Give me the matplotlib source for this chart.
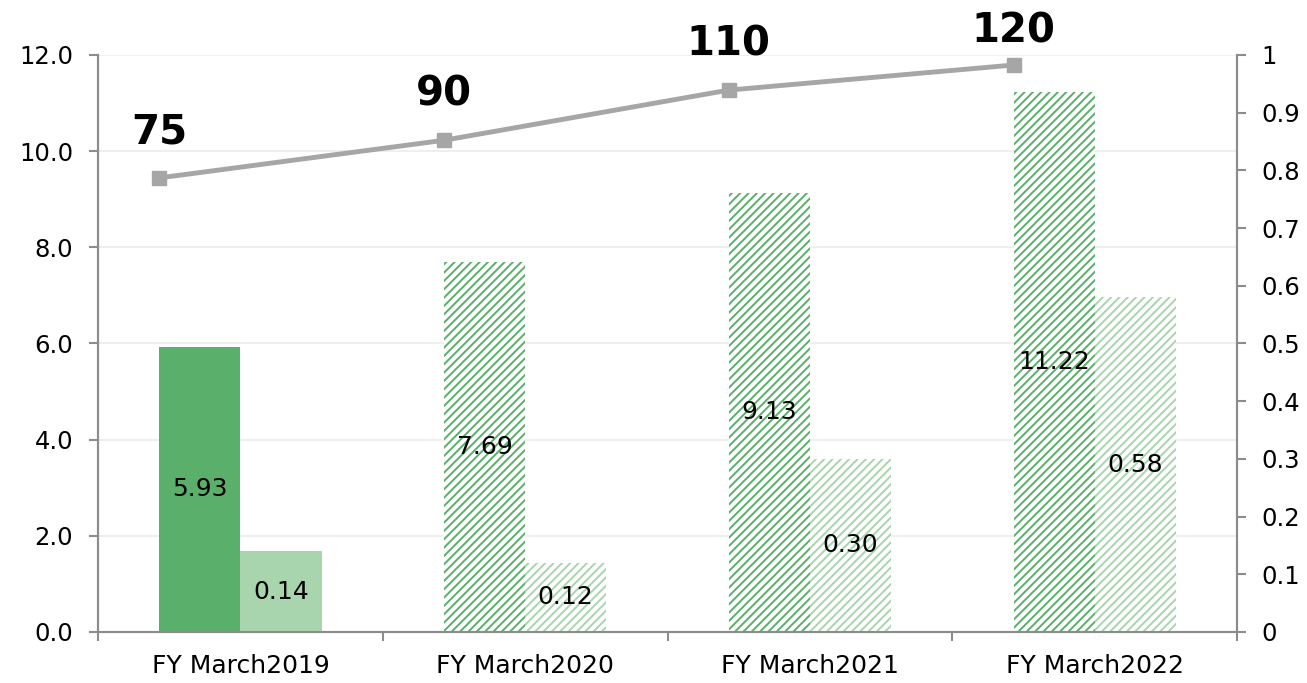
import numpy as np
import matplotlib
matplotlib.use("Agg")
from matplotlib import pyplot as plt

plt.rcParams['font.family'] = ['DejaVu Sans']
plt.rcParams['hatch.linewidth'] = 1.4

years = ["FY March2019", "FY March2020", "FY March2021", "FY March2022"]
main_vals = [5.93, 7.69, 9.13, 11.22]
sub_vals = [0.14, 0.12, 0.30, 0.58]
line_vals = [75, 90, 110, 120]
solid = [True, False, False, False]

dark = "#5aaf6a"
light = "#a9d5ae"
grey = "#a6a6a6"
spine = "#8c8c8c"

fig = plt.figure(figsize=(13.07, 6.83), dpi=100)
ax = fig.add_axes([0.075, 0.0747, 0.8715, 0.8448])
ax2 = ax.twinx()
ax3 = ax.twinx()

x = np.arange(len(years))
w = 0.285

for i in range(len(years)):
    if solid[i]:
        ax.bar(x[i] - w / 2, main_vals[i], w, color=dark, linewidth=0)
        ax2.bar(x[i] + w / 2, sub_vals[i], w, color=light, linewidth=0)
    else:
        ax.bar(x[i] - w / 2, main_vals[i], w, facecolor="white", edgecolor=dark,
               hatch="////", linewidth=0)
        ax2.bar(x[i] + w / 2, sub_vals[i], w, facecolor="white", edgecolor=light,
                hatch="////", linewidth=0)
    ax.text(x[i] - w / 2, main_vals[i] / 2, "%.2f" % main_vals[i], ha="center",
            va="center", fontsize=18, color="black")
    ax2.text(x[i] + w / 2, sub_vals[i] / 2, "%.2f" % sub_vals[i], ha="center",
             va="center", fontsize=18, color="black")

# line on its own hidden scale, placed at left edge of each dark bar
lx = x - w
ax3.plot(lx, line_vals, color=grey, lw=3.5, marker="s", markersize=10)
# last label is pushed down so it stays inside the figure
offsets = [25, 25, 25, 16]
for xi, v, off in zip(lx, line_vals, offsets):
    ax3.annotate(str(v), (xi, v), xytext=(0, off), textcoords="offset points",
                 ha="center", va="baseline", fontsize=29, fontweight="bold")
ax3.set_ylim(-106, 124)
ax3.axis("off")

ax.set_xlim(-0.5, 3.5)
ax.set_ylim(0, 12)
ax.set_yticks(np.arange(0, 12.1, 2))
ax.set_yticklabels(["%.1f" % t for t in np.arange(0, 12.1, 2)])
ax2.set_ylim(0, 1)
ax2.set_yticks(np.arange(0, 1.01, 0.1))
ax2.set_yticklabels(["0"] + ["%.1f" % t for t in np.arange(0.1, 0.95, 0.1)] + ["1"])

ax.set_xticks(x)
ax.set_xticklabels(years)
ax.set_xticks(np.arange(-0.5, 3.6, 1), minor=True)
ax.tick_params(axis="x", which="major", length=0, pad=16, labelsize=18)
ax.tick_params(axis="x", which="minor", length=6.5, width=1.5, color=spine)
ax.tick_params(axis="y", length=6.5, width=1.5, color=spine, labelsize=17.5, pad=11.5)
ax2.tick_params(axis="y", length=6.5, width=1.5, color=spine, labelsize=17.5, pad=11)

ax.grid(axis="y", color="#efefef", lw=1.5)
ax.set_axisbelow(True)

for a in (ax, ax2):
    a.spines["top"].set_visible(False)
    for s in ("left", "right", "bottom"):
        a.spines[s].set_color(spine)
        a.spines[s].set_linewidth(1.5)

fig.savefig("out.png", dpi=100)
